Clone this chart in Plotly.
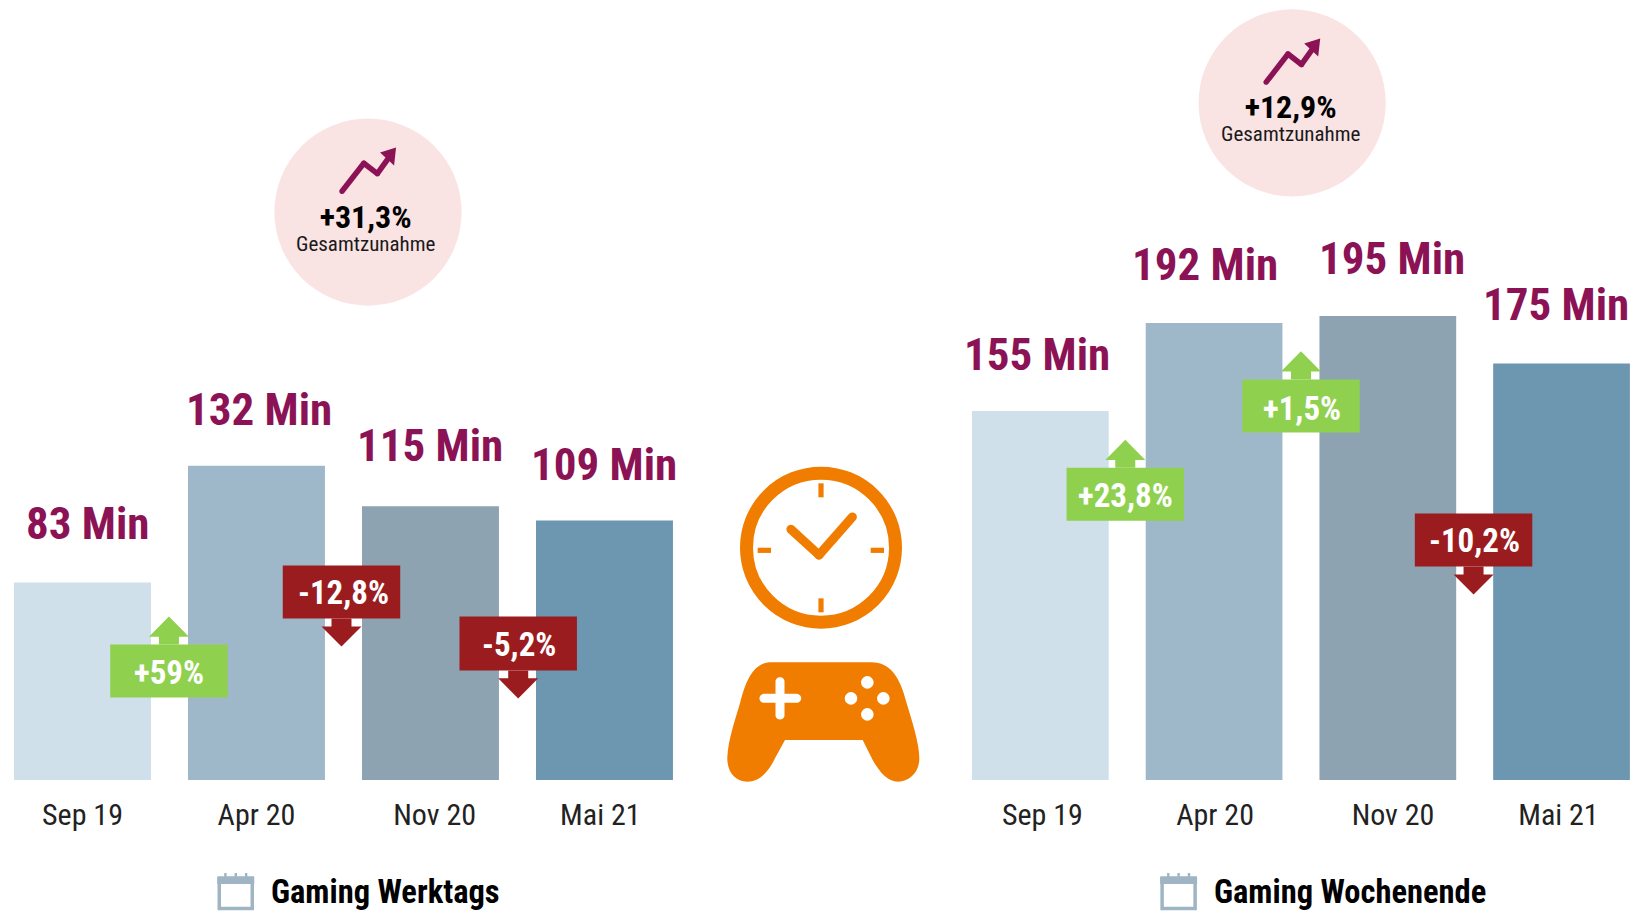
import math
import plotly.graph_objects as go

# ---------- data ----------
categories = ["Sep 19", "Apr 20", "Nov 20", "Mai 21"]
werktags_min = [83, 132, 115, 109]
wochenende_min = [155, 192, 195, 175]
werktags_changes = ["+59%", "-12,8%", "-5,2%"]
wochenende_changes = ["+23,8%", "+1,5%", "-10,2%"]
werktags_total = "+31,3%"
wochenende_total = "+12,9%"
total_caption = "Gesamtzunahme"
werktags_title = "Gaming Werktags"
wochenende_title = "Gaming Wochenende"
unit = " Min"

# ---------- styling ----------
W, H = 1630, 911
BASE_PX = 780
PX_PER_MIN = 2.38
BAR_COLORS = ["#cfe0ea", "#9eb8ca", "#8ea3b1", "#6d96b0"]
MAGENTA = "#8b1254"
GREEN = "#8fd14f"
RED = "#9b1c1f"
ORANGE = "#f07d00"
PINK = "#f9e3e3"
CAL = "#9fb5c4"
NARROW = "Roboto Condensed"
K = W / 1568


def X(v):
    return v / W


def Y(v):
    return 1 - v / H


def path(points, color, close=True):
    d = "M " + " L ".join(f"{X(a):.5f} {Y(b):.5f}" for a, b in points)
    return dict(type="path", xref="paper", yref="paper", path=d + (" Z" if close else ""),
                fillcolor=color, line=dict(width=0), layer="above")


def capsule(x0, y0, x1, y1, w, color):
    ang = math.atan2(y1 - y0, x1 - x0)
    pts = []
    for cx, cy, start in ((x1, y1, ang - math.pi / 2), (x0, y0, ang + math.pi / 2)):
        for i in range(13):
            t = start + math.pi * i / 12
            pts.append((cx + w / 2 * math.cos(t), cy + w / 2 * math.sin(t)))
    return path(pts, color)


def circle(cx, cy, r, color, line=None, lw=0):
    return dict(type="circle", xref="paper", yref="paper", x0=X(cx - r), x1=X(cx + r),
                y0=Y(cy + r), y1=Y(cy - r), fillcolor=color,
                line=dict(color=line or color, width=lw), layer="above")


def rect(x0, y0, x1, y1, color):
    return path([(x0, y0), (x1, y0), (x1, y1), (x0, y1)], color)


def text(x, y, s, size, color, bold=False):
    return dict(xref="paper", yref="paper", x=X(x), y=Y(y), xanchor="center", yanchor="middle",
                showarrow=False, text=f"<b>{s}</b>" if bold else s,
                font=dict(family=NARROW, size=size, color=color))


fig = go.Figure()
fig.add_bar(x=categories, y=werktags_min, xaxis="x", yaxis="y",
            marker=dict(color=BAR_COLORS, line=dict(width=0)), showlegend=False, hoverinfo="skip")
fig.add_bar(x=categories, y=wochenende_min, xaxis="x2", yaxis="y",
            marker=dict(color=BAR_COLORS, line=dict(width=0)), showlegend=False, hoverinfo="skip")

shapes, ann = [], []

# value labels
label_pos = [(84, 504), (249, 394), (414, 429), (581, 447)]
label_pos2 = [(998, 341), (1159, 254), (1339, 249), (1497, 293)]
for vals, pos in ((werktags_min, label_pos), (wochenende_min, label_pos2)):
    for v, (lx, ly) in zip(vals, pos):
        ann.append(text(lx * K, ly * K, f"{v}{unit}", 45, MAGENTA, True))


# change tags
def tag(s, x0, y0, x1, y1, apex_y, tx, ty):
    up = s.startswith("+")
    x0, y0, x1, y1, apex_y, tx, ty = [v * K for v in (x0, y0, x1, y1, apex_y, tx, ty)]
    c = GREEN if up else RED
    mid = (x0 + x1) / 2
    edge = y0 if up else y1
    neck = apex_y + (edge - apex_y) * 0.72
    hw, sw = 20, 10
    shapes.append(rect(x0, y0, x1, y1, c))
    shapes.append(path([(mid - sw, edge), (mid - sw, neck), (mid - hw, neck), (mid, apex_y),
                        (mid + hw, neck), (mid + sw, neck), (mid + sw, edge)], c))
    ann.append(text(tx, ty, f"{s}", 33, "white", True))


t1 = [(106, 620, 219, 671, 593, 163, 647), (272, 544, 385, 595, 622, 330, 570), (442, 593, 555, 645, 672, 499, 620)]
t2 = [(1026, 450, 1139, 501, 423, 1083, 477), (1195, 365, 1308, 416, 338, 1252, 393), (1361, 494, 1474, 545, 572, 1418, 520)]
for s, a in zip(werktags_changes, t1):
    tag(s, *a)
for s, a in zip(wochenende_changes, t2):
    tag(s, *a)


# total bubbles
def bubble(cx, cy, total):
    shapes.append(circle(cx * K, cy * K, 90 * K, PINK))
    tr = [(cx - 25, cy - 20), (cx - 4, cy - 47), (cx + 9, cy - 37), (cx + 19, cy - 51)]
    tr = [(a * K, b * K) for a, b in tr]
    for (a, b), (c, d) in zip(tr, tr[1:]):
        shapes.append(capsule(a, b, c, d, 5.5, MAGENTA))
    ax, ay = (cx + 27) * K, (cy - 62) * K
    shapes.append(path([(ax, ay), (ax - 2, ay + 18), (ax - 16, ay + 5)], MAGENTA))
    s = (f'<span style="font-size:32px;color:black"><b>{total}</b></span><br>'
         f'<span style="font-size:21px">{total_caption}</span>')
    ann.append(text((cx - 2) * K, (cy + 14) * K, s, 18, "#1a1a1a"))


bubble(354, 204, werktags_total)
bubble(1243, 99, wochenende_total)


# central icons (clock + controller), drawn from a local 3x sketch grid
def Z(a, b):
    return 690 + a / 3, 440 + b / 3


cc = Z(393, 323)
shapes.append(circle(cc[0], cc[1], 74.5, "rgba(0,0,0,0)", ORANGE, 13))
for a0, b0, a1, b1 in ((393, 130, 393, 172), (393, 475, 393, 517), (203, 331, 243, 331), (542, 331, 582, 331)):
    p, q = Z(a0, b0), Z(a1, b1)
    if a0 == a1:
        shapes.append(rect(p[0] - 2.6, p[1], q[0] + 2.6, q[1], ORANGE))
    else:
        shapes.append(rect(p[0], p[1] - 2.6, q[0], q[1] + 2.6, ORANGE))
h0, h1, h2 = Z(303, 268), Z(387, 345), Z(487, 231)
shapes.append(capsule(*h0, *h1, 9, ORANGE))
shapes.append(capsule(*h1, *h2, 9, ORANGE))

pad = [
    ("M", (245, 667)), ("L", (545, 667)),
    ("C", (600, 667), (630, 710), (650, 790)), ("C", (665, 840), (688, 910), (688, 955)),
    ("C", (688, 1000), (655, 1025), (625, 1025)), ("C", (590, 1025), (565, 990), (548, 960)),
    ("L", (518, 900)), ("L", (285, 900)), ("L", (255, 955)),
    ("C", (235, 995), (210, 1025), (172, 1025)), ("C", (135, 1025), (110, 995), (112, 950)),
    ("C", (115, 900), (135, 840), (150, 790)), ("C", (170, 710), (195, 667), (245, 667)),
]
d = ""
for seg in pad:
    d += seg[0] + " " + " ".join("{:.5f} {:.5f}".format(X(Z(*pt)[0]), Y(Z(*pt)[1])) for pt in seg[1:]) + " "
shapes.append(dict(type="path", xref="paper", yref="paper", path=d + "Z", fillcolor=ORANGE,
                   line=dict(width=0), layer="above"))
shapes.append(capsule(*Z(222, 775), *Z(320, 775), 9, "white"))
shapes.append(capsule(*Z(270, 725), *Z(270, 825), 9, "white"))
for a, b in ((532, 727), (532, 823), (483, 775), (580, 775)):
    c = Z(a, b)
    shapes.append(circle(c[0], c[1], 6.3, "white"))


# bottom titles
def title(x_icon, x_text, s):
    x0 = x_icon * K
    x1 = x0 + 37
    shapes.append(dict(type="rect", xref="paper", yref="paper", x0=X(x0 + 2), x1=X(x1 - 2),
                       y0=Y(908.5), y1=Y(878), fillcolor="white",
                       line=dict(color=CAL, width=3.5), layer="above"))
    shapes.append(rect(x0, 877, x1, 884, CAL))
    for f in (0.22, 0.5, 0.78):
        shapes.append(rect(x0 + 37 * f - 1.2, 873, x0 + 37 * f + 1.2, 879, CAL))
    ann.append(text(x_text * K, 891.5, s, 32.5, "black", True))


title(209, 370.5, werktags_title)
title(1116, 1299, wochenende_title)

axis = dict(type="category", categoryorder="array", categoryarray=categories, showgrid=False, zeroline=False,
            showline=False, ticks="outside", ticklen=8, tickcolor="rgba(0,0,0,0)", anchor="y",
            tickfont=dict(family=NARROW, size=30, color="#222222"), fixedrange=True,
            tickmode="array", ticktext=categories)
fig.update_layout(
    width=W, height=H, margin=dict(l=0, r=0, t=0, b=0), autosize=False,
    paper_bgcolor="white", plot_bgcolor="white", bargap=0.213, showlegend=False,
    xaxis=dict(axis, domain=[0, 696 / W], range=[-0.474, 3.526], tickvals=[0, 1, 2.024, 2.976]),
    xaxis2=dict(axis, domain=[950 / W, 1], range=[-0.52, 3.394], tickvals=[0.012, 1.006, 2.03, 2.982]),
    yaxis=dict(domain=[(H - BASE_PX) / H, 1], range=[0, BASE_PX / PX_PER_MIN], visible=False, fixedrange=True),
    shapes=shapes, annotations=ann,
)
fig.write_html("out.html", config=dict(displayModeBar=False),
               post_script="document.body.style.margin='0';document.body.style.overflow='hidden';")
